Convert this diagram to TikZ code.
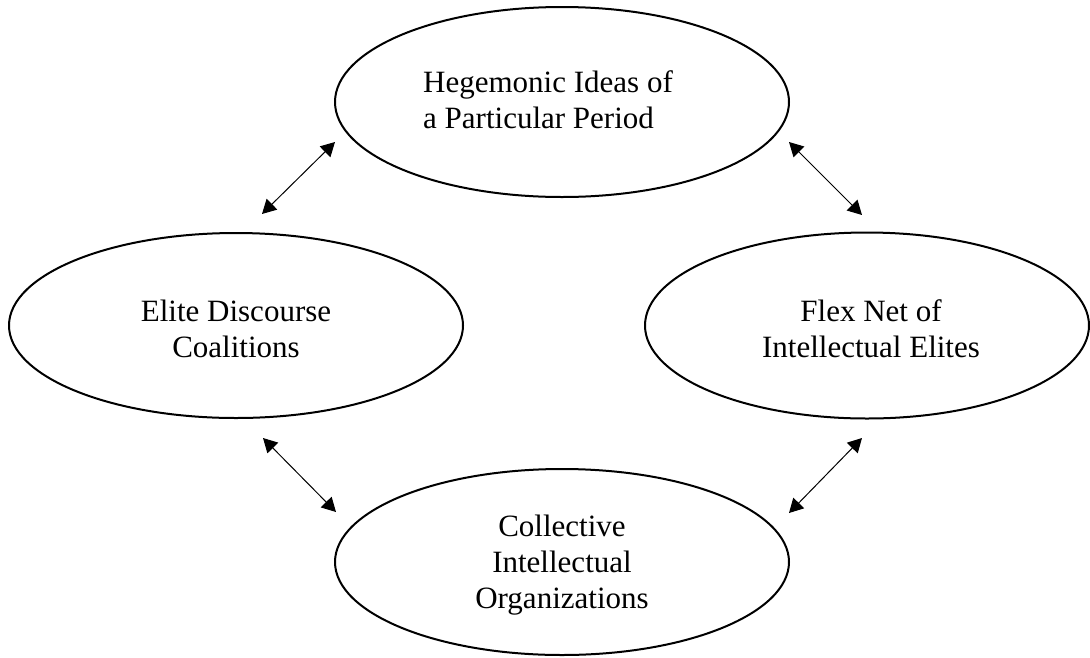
\documentclass[tikz,border=0pt]{standalone}
\usepackage{fontspec}
\setmainfont{Liberation Serif}
\usetikzlibrary{shapes.geometric,arrows.meta}
\begin{document}
\begin{tikzpicture}[x=1pt,y=-1pt,font=\fontsize{31}{36}\selectfont,line join=round,
	>={Triangle[length=14pt,width=15pt]},
	bubble/.style={draw,ellipse,line width=2pt,inner sep=0pt},
	caption/.style={inner sep=0pt,align=center,anchor=base}]
	\useasboundingbox (0,0) rectangle (1090,657);
	\path
	(562,102) coordinate (H)
	(236,325.5) coordinate (E)
	(867,325.5) coordinate (F)
	(562,562) coordinate (C)
	% arrow ends
	(262,214) coordinate (e1) (335,142) coordinate (h1)
	(789,142) coordinate (h2) (862,215) coordinate (f1)
	(263,438) coordinate (e2) (336,512) coordinate (c1)
	(862,438) coordinate (f2) (789,513) coordinate (c2)
	;
	\node[bubble,minimum width=454pt,minimum height=190pt] (hip) at (H) {};
	\node[bubble,minimum width=454pt,minimum height=185pt] (edc) at (E) {};
	\node[bubble,minimum width=444pt,minimum height=186pt] (fnie) at (F) {};
	\node[bubble,minimum width=454pt,minimum height=186pt] (cio) at (C) {};
	% base sits on the last line
	\node[caption,align=left,anchor=base west] (hiptext) at (423,128) {Hegemonic Ideas of\\a Particular Period};
	\node[caption] (edctext) at (236,357) {Elite Discourse\\Coalitions};
	\node[caption] (fnietext) at (871,357) {Flex Net of\\Intellectual Elites};
	\node[caption] (ciotext) at (562,608) {Collective\\Intellectual\\Organizations};
	\foreach \p/\q in {e1/h1,h2/f1,e2/c1,f2/c2}
	\draw[<->,line width=1pt] (\p)--(\q);
\end{tikzpicture}
\end{document}
